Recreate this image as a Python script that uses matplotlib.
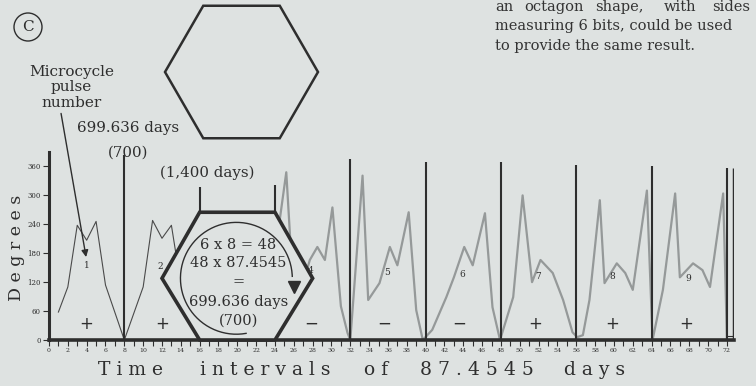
import numpy as np
import matplotlib.pyplot as plt
from matplotlib.patches import Polygon, Ellipse

PAPER = '#dee2e1'
INK = '#2e2e2e'
SERIF = 'DejaVu Serif'

# pulses 1 and 2 of the microcycle (thin dark trace)
early_x = [1, 2, 3, 4, 5, 6, 7, 8, 9, 10, 11, 12, 13, 14, 15, 16]
early_y = [58, 110, 238, 207, 246, 114, 57, 0, 55, 110, 248, 211, 238, 115, 50, 0]

# pulses 4 to 9 (grey trace)
late_x = [24.3, 25.2, 26.0, 27.0, 27.7, 28.5, 29.3, 30.1, 31.0, 31.7, 32.0,
          33.3, 33.9, 35.1, 36.2, 37.0, 38.2, 39.0, 39.7,
          40.7, 42.2, 43.0, 44.1, 45.0, 46.3, 47.1, 47.9,
          49.3, 50.3, 51.3, 52.2, 53.5, 54.6, 55.6, 56.1,
          56.7, 57.4, 58.5, 59.0, 60.3, 61.2, 62.0, 63.5, 64.1,
          65.2, 66.5, 67.0, 68.4, 69.4, 70.2, 71.6, 72.0]
late_y = [220, 348, 83, 118, 166, 193, 166, 275, 70, 15, 0,
          341, 83, 118, 193, 155, 265, 62, 0,
          21, 89, 130, 193, 155, 263, 68, 0,
          89, 300, 120, 166, 139, 83, 16, 6,
          10, 83, 290, 118, 159, 139, 104, 310, 0,
          104, 304, 130, 159, 145, 110, 304, 0]

# vertical pulse dividers
divider_x = [8, 32, 40, 48, 56, 64, 72]
divider_top = [383, 375, 369, 369, 364, 360, 356]

# pulse numbers and polarity signs
pulse_num = ['1', '2', '4', '5', '6', '7', '8', '9']
pulse_num_x = [4.0, 11.8, 27.8, 35.9, 43.9, 51.9, 59.8, 67.9]
pulse_num_y = [155, 152, 145, 139, 135, 131, 131, 128]
signs = ['+', '+', '\u2212', '\u2212', '\u2212', '+', '+', '+']
sign_x = [4.0, 12.0, 27.8, 35.6, 43.6, 51.6, 59.8, 67.7]

# hexagon drawn on the chart (x in intervals, y in degrees)
hex_x = [12, 16, 24, 28, 24, 16]
hex_y = [128, 265, 265, 128, 0, 0]

W, H = 756, 386


def px(x, y):
    return x / W, 1 - y / H


fig = plt.figure(figsize=(W / 100, H / 100), dpi=100, facecolor=PAPER)
ax = fig.add_axes([49 / W, 46 / H, 685 / W, 188 / H])
ax.set_facecolor('none')
ax.set_xlim(0, 72.75)
ax.set_ylim(0, 390)

for s in ['top', 'right']:
    ax.spines[s].set_visible(False)
ax.spines['left'].set_linewidth(2.2)
ax.spines['bottom'].set_linewidth(2.6)
for s in ['left', 'bottom']:
    ax.spines[s].set_color(INK)

ax.set_xticks(range(0, 73, 2))
ax.set_xticks(range(0, 73), minor=True)
ax.set_yticks(range(0, 361, 60))
ax.tick_params(axis='x', which='both', direction='out', length=4, width=0.8,
               colors=INK, labelsize=4.5, pad=2)
ax.tick_params(axis='y', direction='out', length=4, width=0.8,
               colors=INK, labelsize=5, pad=2)
for lab in ax.get_xticklabels() + ax.get_yticklabels():
    lab.set_family(SERIF)

# waveforms
ax.plot(early_x, early_y, color='#4a4a4a', lw=0.8, zorder=2)
ax.plot(late_x, late_y, color='#959999', lw=1.6, zorder=2)

# dividers and right border
ax.vlines(divider_x, 0, divider_top, color=INK, lw=1.5, zorder=3)
ax.vlines(72.75, 0, 356, color=INK, lw=2.5, zorder=3)
ax.plot([72, 72.75], [8, 8], color=INK, lw=0.8, zorder=3)

# hexagon with its brackets and circular arrow
ax.add_patch(Polygon(list(zip(hex_x, hex_y)), closed=True, fc=PAPER, ec=INK,
                     lw=2.6, zorder=3, clip_on=False))
ax.vlines([16, 24], [265, 265], [318, 322], color=INK, lw=1.5, zorder=3)
t = np.radians(np.linspace(-80, -358, 200))
ax.plot(19.9 + 5.94 * np.cos(t), 128 + 116 * np.sin(t), color=INK, lw=1.0, zorder=4)
ax.plot(26.0, 110, marker='v', ms=8, color=INK, zorder=4)

hex_text = ['6 x 8 = 48', '48 x 87.4545', '=', '699.636 days', '(700)']
hex_text_y = [197, 159, 120, 79, 41]
for s, y in zip(hex_text, hex_text_y):
    ax.text(20.1, y, s, ha='center', va='center', fontsize=10.5,
            family=SERIF, color=INK, zorder=5)

for s, x, y in zip(pulse_num, pulse_num_x, pulse_num_y):
    ax.text(x, y, s, ha='center', va='center', fontsize=6.5,
            family=SERIF, color=INK, zorder=5)
for s, x in zip(signs, sign_x):
    ax.text(x, 33, s, ha='center', va='center', fontsize=12,
            color=INK, zorder=5)

# labels above the axes
ax.text(8.4, 439, '699.636 days', ha='center', va='center', fontsize=10.8,
        family=SERIF, color=INK)
ax.text(8.4, 389, '(700)', ha='center', va='center', fontsize=10.8,
        family=SERIF, color=INK)
ax.text(16.8, 346, '(1,400 days)', ha='center', va='center', fontsize=10.8,
        family=SERIF, color=INK)
ax.text(2.4, 524, 'Microcycle\npulse\nnumber', ha='center', va='center',
        fontsize=11, family=SERIF, color=INK, linespacing=1.15)
ax.annotate('', xy=(3.94, 172), xytext=(1.28, 470), annotation_clip=False,
            arrowprops=dict(arrowstyle='-|>', color=INK, lw=1.0,
                            mutation_scale=10, shrinkA=0, shrinkB=0))

# axis titles with spaced letters
fig.text(*px(17, 248), 'D e g r e e s', rotation=90, ha='center', va='center',
         fontsize=12.5, family=SERIF, color=INK)
xlabel_words = ['T i m e', 'i n t e r v a l s', 'o f', '8 7 . 4 5 4 5', 'd a y s']
xlabel_x = [130.5, 265, 376, 477, 595]
for s, x in zip(xlabel_words, xlabel_x):
    fig.text(*px(x, 375), s, ha='center', va='baseline', fontsize=13.5,
             family=SERIF, color=INK)

# large hexagon at the top
cx, cy, r = 241.5, 72, 76.5
ang = np.radians(np.arange(0, 360, 60))
top_hex = [px(cx + r * np.cos(a), cy - r * np.sin(a)) for a in ang]
fig.add_artist(Polygon(top_hex, closed=True, fc='none', ec=INK, lw=1.8,
                       transform=fig.transFigure))

# panel letter
fig.add_artist(Ellipse(px(28, 27), 28 / W, 28 / H, fc='none', ec=INK, lw=1.0,
                       transform=fig.transFigure))
fig.text(*px(28, 27), 'C', ha='center', va='center', fontsize=11,
         family=SERIF, color=INK)

# paragraph text at top right
para_words = ['an', 'octagon', 'shape,', 'with', 'sides']
para_x = [495, 524, 595, 664, 712]
for s, x in zip(para_words, para_x):
    fig.text(*px(x, 11), s, ha='left', va='baseline', fontsize=10.5,
             family=SERIF, color='#333333')
fig.text(*px(495, 30), 'measuring 6 bits, could be used', ha='left',
         va='baseline', fontsize=10.5, family=SERIF, color='#333333')
fig.text(*px(495, 50), 'to provide the same result.', ha='left',
         va='baseline', fontsize=10.5, family=SERIF, color='#333333')

fig.savefig('out.png', dpi=100, facecolor=PAPER)
